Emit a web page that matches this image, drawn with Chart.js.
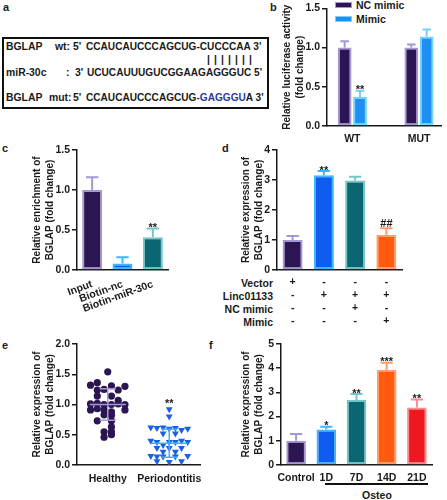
<!DOCTYPE html>
<html>
<head>
<meta charset="utf-8">
<script src="https://cdn.jsdelivr.net/npm/chart.js@4.4.1/dist/chart.umd.min.js"></script>
<style>
  body { margin: 0; background: #fff; }
  #fig { position: relative; width: 447px; height: 500px; overflow: hidden;
         font-family: 'Liberation Sans', Arial, sans-serif; font-weight: bold; color: #1a1a1a; }
  #fig canvas { position: absolute; left: 0; top: 0; }
  .t { position: absolute; font-size: 10.4px; line-height: 12px; white-space: pre; }
  .seq { font-size: 10.1px; }
  .lbl { position: absolute; font-size: 11px; line-height: 12px; }
  .sw { position: absolute; width: 15px; height: 4px; }
</style>
</head>
<body>
<div id="fig">
  <div class="lbl" style="left:3px;top:1px">a</div>
  <div class="lbl" style="left:270px;top:1px">b</div>
  <div class="lbl" style="left:2px;top:142px">c</div>
  <div class="lbl" style="left:222px;top:142px">d</div>
  <div class="lbl" style="left:2px;top:339px">e</div>
  <div class="lbl" style="left:209px;top:339px">f</div>

  <!-- a: binding sites -->
  <div style="position:absolute;left:2px;top:37px;width:267px;height:72px;border:2px solid #111;box-sizing:border-box"></div>
  <div class="t" style="left:6px;top:41px">BGLAP</div>
  <div class="t" style="left:55px;top:41px">wt:</div>
  <div class="t" style="left:73px;top:41px">5'</div>
  <div class="t seq" style="left:86px;top:41px">CCAUCAUCCCAGCUG-CUCCCAA 3'</div>
  <div class="t" style="left:207px;top:54px;letter-spacing:4.1px">|||||||</div>
  <div class="t" style="left:6px;top:67px">miR-30c</div>
  <div class="t" style="left:66px;top:67px">:</div>
  <div class="t" style="left:75px;top:67px">3'</div>
  <div class="t seq" style="left:87px;top:67px">UCUCAUUUGUCGGAAGAGGGUC 5'</div>
  <div class="t" style="left:6px;top:92px">BGLAP</div>
  <div class="t" style="left:49px;top:92px">mut:</div>
  <div class="t" style="left:73px;top:92px">5'</div>
  <div class="t seq" style="left:86px;top:92px">CCAUCAUCCCAGCUG<span style="color:#2b3a9a">-GAGGGU</span>A 3'</div>

  <!-- b legend -->
  <div class="sw" style="left:335px;top:2px;background:#2b1552;border:1px solid #a597d6"></div>
  <div class="t" style="left:356px;top:-1px;font-size:10.5px">NC mimic</div>
  <div class="sw" style="left:335px;top:16px;background:#1f8ff5;border:1px solid #74d2fc"></div>
  <div class="t" style="left:356px;top:13px;font-size:10.5px">Mimic</div>

  <!-- d row names -->
  <div class="t" style="right:174px;top:277px;font-size:10.5px">Vector</div>
  <div class="t" style="right:174px;top:290px;font-size:10.5px">Linc01133</div>
  <div class="t" style="right:174px;top:303px;font-size:10.5px">NC mimic</div>
  <div class="t" style="right:174px;top:316px;font-size:10.5px">Mimic</div>

  <!-- f group bar -->
  <div style="position:absolute;left:325px;top:483px;width:103px;height:1.5px;background:#111"></div>
  <div class="t" style="left:347px;top:489px;width:60px;text-align:center;font-size:10.5px">Osteo</div>

  <canvas id="chartB" width="447" height="500"></canvas>
  <canvas id="chartC" width="447" height="500"></canvas>
  <canvas id="chartD" width="447" height="500"></canvas>
  <canvas id="chartE" width="447" height="500"></canvas>
  <canvas id="chartF" width="447" height="500"></canvas>
</div>

<script>
// b: luciferase
const bCats = ['WT', 'MUT'];
const bNC = [1.0, 1.0];
const bNCErr = [0.08, 0.04];
const bMimic = [0.37, 1.14];
const bMimicErr = [0.08, 0.09];
const bStars = ['**', ''];

// c: pull-down
const cCats = ['Input', 'Biotin-nc', 'Biotin-miR-30c'];
const cVals = [1.0, 0.08, 0.41];
const cErr = [0.16, 0.08, 0.11];
const cStars = ['', '', '**'];

// d: rescue
const dVector = ['+', '-', '-', '-'];
const dLinc = ['-', '+', '+', '+'];
const dNCmimic = ['-', '-', '+', '-'];
const dMimic = ['-', '-', '-', '+'];
const dVals = [1.0, 3.16, 2.98, 1.17];
const dErr = [0.13, 0.14, 0.13, 0.22];
const dStars = ['', '**', '', '##'];

// e: tissue samples (value, horizontal jitter)
const eCats = ['Healthy', 'Periodontitis'];
const healthyVals = [1.54, 1.32, 1.36, 1.31, 1.30, 1.24, 1.25, 1.24, 1.14, 1.14, 1.07,
  1.01, 1.02, 1.00, 1.00, 1.01, 1.00, 0.91, 0.93, 0.91, 0.88, 0.91, 0.83, 0.82,
  0.73, 0.73, 0.63, 0.55, 0.55, 0.46, 0.50];
const healthyJit = [0, -0.28, -0.17, 0.06, 0.28, -0.17, -0.06, 0.17, -0.17, 0.06, 0.17,
  -0.28, -0.17, -0.06, 0.06, 0.17, 0.28, -0.28, -0.17, -0.06, 0.06, 0.28, -0.06, 0.06,
  -0.17, 0.06, 0.06, -0.06, 0.06, -0.06, 0.06];
const perioVals = [0.92, 0.80, 0.62, 0.61, 0.62, 0.60, 0.61, 0.58, 0.60, 0.52, 0.52,
  0.40, 0.38, 0.38, 0.38, 0.40, 0.38, 0.33, 0.28, 0.28, 0.28, 0.22, 0.22,
  0.15, 0.14, 0.14, 0.14, 0.15, 0.06, 0.05, 0.06];
const perioJit = [0, 0, -0.3, -0.2, -0.1, 0, 0.1, 0.2, 0.3, -0.1, 0.1,
  -0.3, -0.2, 0, 0.1, 0.2, 0.3, -0.1, -0.2, 0, 0.2, -0.1, 0.1,
  -0.3, -0.2, -0.1, 0.1, 0.3, -0.2, 0, 0.2];
const eMean = [1.0, 0.36];
const eSD = [0.26, 0.23];
const eStars = ['', '**'];

// f: osteogenic time course
const fCats = ['Control', '1D', '7D', '14D', '21D'];
const fVals = [1.0, 1.47, 2.69, 3.93, 2.38];
const fErr = [0.28, 0.11, 0.24, 0.30, 0.33];
const fStars = ['', '*', '**', '***', '**'];

const INK = '#1a1a1a';
const FONT = "'Liberation Sans', Arial, sans-serif";
const PURPLE = '#2b1552', PURPLE_E = '#a597d6';
const BLUE = '#0f5cf0', BLUE_E = '#3cb8fb';
const SKY = '#1f8ff5', SKY_E = '#74d2fc';
const TEAL = '#0a6670', TEAL_E = '#74c7c9';
const ORANGE = '#ff5a0e', ORANGE_E = '#ff9c6a';
const RED = '#f01820', RED_E = '#ff8a8e';

Chart.defaults.font.family = FONT;
Chart.defaults.font.weight = 'bold';
Chart.defaults.font.size = 10.5;
Chart.defaults.color = INK;
Chart.defaults.animation = false;
Chart.defaults.responsive = false;
Chart.defaults.devicePixelRatio = 1;
Chart.defaults.plugins.legend.display = false;
Chart.defaults.plugins.tooltip.enabled = false;

function starText(ctx, txt, x, y) {
  ctx.fillStyle = INK;
  ctx.font = 'bold 11px ' + FONT;
  ctx.textAlign = 'center';
  ctx.textBaseline = 'alphabetic';
  ctx.fillText(txt, x, txt.includes('#') ? y - 1.5 : y + 2.5);
}

// error bars (upper only) + significance marks
const barExtras = {
  id: 'barExtras',
  afterDatasetsDraw(chart) {
    const ctx = chart.ctx, ys = chart.scales.y;
    chart.data.datasets.forEach((ds, i) => {
      if (!ds.errors) return;
      chart.getDatasetMeta(i).data.forEach((bar, j) => {
        const d = ds.data[j];
        const v = typeof d === 'object' ? d.y : d;
        const top = ys.getPixelForValue(v + ds.errors[j]);
        const col = Array.isArray(ds.borderColor) ? ds.borderColor[j] : ds.borderColor;
        const w = bar.width * 0.62;
        ctx.save();
        ctx.strokeStyle = col;
        ctx.lineWidth = 2;
        ctx.beginPath();
        ctx.moveTo(bar.x, bar.y);
        ctx.lineTo(bar.x, top);
        ctx.moveTo(bar.x - w / 2, top);
        ctx.lineTo(bar.x + w / 2, top);
        ctx.stroke();
        if (ds.stars && ds.stars[j]) starText(ctx, ds.stars[j], bar.x, top);
        ctx.restore();
      });
    });
  }
};

// mean +/- SD lines for the dot plot
const meanSd = {
  id: 'meanSd',
  afterDatasetsDraw(chart) {
    const ctx = chart.ctx, xs = chart.scales.x, ys = chart.scales.y;
    chart.data.datasets.forEach((ds, i) => {
      const cx = xs.getPixelForValue(i);
      const m = ys.getPixelForValue(eMean[i]);
      const hi = ys.getPixelForValue(eMean[i] + eSD[i]);
      const lo = ys.getPixelForValue(eMean[i] - eSD[i]);
      ctx.save();
      ctx.strokeStyle = ds.lineColor;
      ctx.lineWidth = 1.5;
      ctx.beginPath();
      ctx.moveTo(cx - 18, m); ctx.lineTo(cx + 18, m);
      ctx.moveTo(cx - 8, hi); ctx.lineTo(cx + 8, hi);
      ctx.moveTo(cx - 8, lo); ctx.lineTo(cx + 8, lo);
      ctx.moveTo(cx, hi); ctx.lineTo(cx, lo);
      ctx.stroke();
      if (eStars[i]) {
        const vals = ds.data.map(p => p.y);
        starText(ctx, eStars[i], cx, ys.getPixelForValue(Math.max(...vals)) - 4.5);
      }
      ctx.restore();
    });
  }
};

function yAxis(max, step, width, title, dec) {
  return {
    min: 0, max: max,
    ticks: { stepSize: step, padding: 2, callback: v => v.toFixed(dec) },
    grid: { drawOnChartArea: false, color: INK, lineWidth: 1.5, tickLength: 5 },
    border: { color: INK, width: 1.5 },
    title: { display: true, text: title, padding: 0, color: INK,
             font: { size: 10, weight: 'bold', lineHeight: 1.3 } },
    afterFit: s => { s.width = width; }
  };
}

function xAxis(height, pad, extra) {
  return Object.assign({
    grid: { display: false, drawTicks: false },
    border: { color: INK, width: 1.5 },
    ticks: { padding: pad, autoSkip: false, maxRotation: 0 },
    afterFit: s => { s.height = height; }
  }, extra || {});
}

// ---- b ----
new Chart(document.getElementById('chartB'), {
  type: 'bar',
  data: {
    datasets: [
      { data: bNC.map((v, i) => ({ x: i, y: v })), errors: bNCErr,
        backgroundColor: PURPLE, borderColor: PURPLE_E, borderWidth: 2, borderSkipped: false },
      { data: bMimic.map((v, i) => ({ x: i, y: v })), errors: bMimicErr, stars: bStars,
        backgroundColor: SKY, borderColor: SKY_E, borderWidth: 2, borderSkipped: false }
    ]
  },
  options: {
    layout: { padding: { left: 281, right: 6, top: 6, bottom: 354 } },
    datasets: { bar: { categoryPercentage: 0.46, barPercentage: 0.9 } },
    scales: {
      x: xAxis(20, 7, {
        type: 'linear', min: -0.38, max: 1.33, offset: false,
        afterBuildTicks: s => { s.ticks = bCats.map((c, i) => ({ value: i })); },
        ticks: { padding: 7, autoSkip: false, maxRotation: 0, callback: v => bCats[v] }
      }),
      y: yAxis(1.5, 0.5, 46, ['Relative luciferase activity', '(fold change)'], 1)
    }
  },
  plugins: [barExtras]
});

// ---- c ----
new Chart(document.getElementById('chartC'), {
  type: 'bar',
  data: {
    labels: cCats,
    datasets: [{ data: cVals, errors: cErr, stars: cStars,
      backgroundColor: [PURPLE, BLUE, TEAL], borderColor: [PURPLE_E, BLUE_E, TEAL_E],
      borderWidth: 2, borderSkipped: false, barPercentage: 0.66, categoryPercentage: 1 }]
  },
  options: {
    layout: { padding: { left: 31, right: 279, top: 150, bottom: 180 } },
    scales: {
      x: xAxis(50, 8, { ticks: { padding: 8, autoSkip: false, minRotation: 20, maxRotation: 20 } }),
      y: yAxis(1.5, 0.5, 46, ['Relative enrichment of', 'BGLAP (fold change)'], 1)
    }
  },
  plugins: [barExtras]
});

// ---- d ----
new Chart(document.getElementById('chartD'), {
  type: 'bar',
  data: {
    labels: dVals.map((v, i) => [dVector[i], dLinc[i], dNCmimic[i], dMimic[i]]),
    datasets: [{ data: dVals, errors: dErr, stars: dStars,
      backgroundColor: [PURPLE, BLUE, TEAL, ORANGE], borderColor: [PURPLE_E, BLUE_E, TEAL_E, ORANGE_E],
      borderWidth: 2, borderSkipped: false, barPercentage: 0.64, categoryPercentage: 1 }]
  },
  options: {
    layout: { padding: { left: 240, right: 45, top: 150, bottom: 170 } },
    scales: {
      x: xAxis(60, 6, { ticks: { padding: 6, autoSkip: false, maxRotation: 0,
                                 font: { size: 10.5, weight: 'bold', lineHeight: 1.24 } } }),
      y: yAxis(4, 1, 37, ['Relative expression of', 'BGLAP (fold change)'], 0)
    }
  },
  plugins: [barExtras]
});

// ---- e ----
new Chart(document.getElementById('chartE'), {
  type: 'scatter',
  data: {
    datasets: [
      { data: healthyVals.map((v, i) => ({ x: 0 + healthyJit[i], y: v })),
        pointStyle: 'circle', pointRadius: 3.6, backgroundColor: PURPLE, borderColor: PURPLE,
        borderWidth: 0, lineColor: PURPLE_E },
      { data: perioVals.map((v, i) => ({ x: 1 + perioJit[i], y: v })),
        pointStyle: 'triangle', rotation: 180, pointRadius: 4, backgroundColor: '#1c5fe6',
        borderColor: '#1c5fe6', borderWidth: 0, lineColor: '#3cb2fb' }
    ]
  },
  options: {
    layout: { padding: { left: 31, right: 247, top: 344, bottom: 15 } },
    scales: {
      x: xAxis(20, 8, {
        type: 'linear', min: -0.5, max: 1.5, offset: false,
        afterBuildTicks: s => { s.ticks = eCats.map((c, i) => ({ value: i })); },
        ticks: { padding: 8, autoSkip: false, maxRotation: 0, callback: v => eCats[v] }
      }),
      y: yAxis(2, 0.5, 46, ['Relative expression of', 'BGLAP (fold change)'], 1)
    }
  },
  plugins: [meanSd]
});

// ---- f ----
new Chart(document.getElementById('chartF'), {
  type: 'bar',
  data: {
    labels: fCats,
    datasets: [{ data: fVals, errors: fErr, stars: fStars,
      backgroundColor: [PURPLE, BLUE, TEAL, ORANGE, RED],
      borderColor: [PURPLE_E, BLUE_E, TEAL_E, ORANGE_E, RED_E],
      borderWidth: 2, borderSkipped: false, barPercentage: 0.65, categoryPercentage: 1 }]
  },
  options: {
    layout: { padding: { left: 240, right: 15, top: 344, bottom: 15 } },
    scales: {
      x: xAxis(20, 7),
      y: yAxis(5, 1, 41, ['Relative expression of', 'BGLAP (fold change)'], 0)
    }
  },
  plugins: [barExtras]
});
</script>
</body>
</html>
